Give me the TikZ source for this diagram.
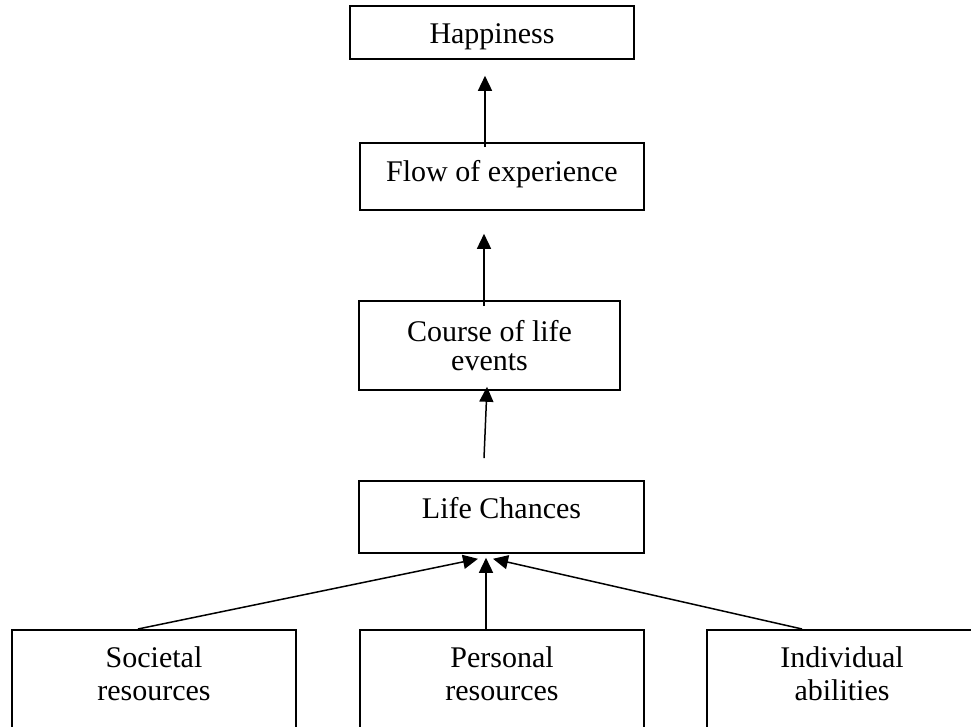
\documentclass[tikz,border=0pt]{standalone}
\usepackage{fontspec}
\setmainfont{Liberation Serif}
\usetikzlibrary{arrows.meta,positioning}

\begin{document}
\begin{tikzpicture}[x=1pt,y=1pt,
    box/.style={draw,line width=1.6pt,inner sep=0pt},
    txt/.style={align=center,inner sep=0pt,font=\fontsize{30}{33}\selectfont},
    arr/.style={line width=1.5pt,-{Triangle[length=15pt,width=14pt]}}]
  \useasboundingbox (0,0) rectangle (971,727);
  \clip (0,0) rectangle (971,727);

  \node [box,minimum width=284pt,minimum height=53pt] (happy) at (492,694.5) {};
  \node [box,minimum width=284pt,minimum height=67pt] (flow) at (502,550.5) {};
  \node [box,minimum width=261pt,minimum height=89pt] (course) at (489.5,381.5) {};
  \node [box,minimum width=285pt,minimum height=72pt] (chances) at (501.5,210) {};
  \node [box,anchor=north,minimum width=284pt,minimum height=120pt] (societal) at (154,98) {};
  \node [box,anchor=north,minimum width=284pt,minimum height=120pt] (personal) at (502,98) {};
  \node [box,anchor=north,minimum width=270pt,minimum height=120pt] (individual) at (842,98) {};

  \node [txt,below=18pt of happy.north] (happy-t) {Happiness};
  \node [txt,below=18pt of flow.north] (flow-t) {Flow of experience};
  \node [txt,below=20pt of course.north,font=\fontsize{30}{29}\selectfont] (course-t) {Course of life\\events};
  \node [txt,below=17pt of chances.north] (chances-t) {Life Chances};
  \node [txt,below=17pt of societal.north] (societal-t) {Societal\\resources};
  \node [txt,below=17pt of personal.north] (personal-t) {Personal\\resources};
  \node [txt,below=17pt of individual.north] (individual-t) {Individual\\abilities};

  \draw[arr] ([xshift=-17pt,yshift=-5pt]flow.north) -- ([xshift=-7pt,yshift=-16pt]happy.south);
  \draw[arr] ([xshift=-5.5pt,yshift=-6pt]course.north) -- ([xshift=-18pt,yshift=-23pt]flow.south);
  \draw[arr] ([xshift=-17.5pt,yshift=22pt]chances.north) -- ([xshift=-2.5pt,yshift=4pt]course.south);
  \draw[arr] ([xshift=-16pt]societal.north) -- ([xshift=-23.5pt,yshift=-5pt]chances.south);
  \draw[arr] ([xshift=-16pt]personal.north) -- ([xshift=-15.5pt,yshift=-4pt]chances.south);
  \draw[arr] ([xshift=-40pt]individual.north) -- ([xshift=-8.5pt,yshift=-5pt]chances.south);
\end{tikzpicture}
\end{document}
